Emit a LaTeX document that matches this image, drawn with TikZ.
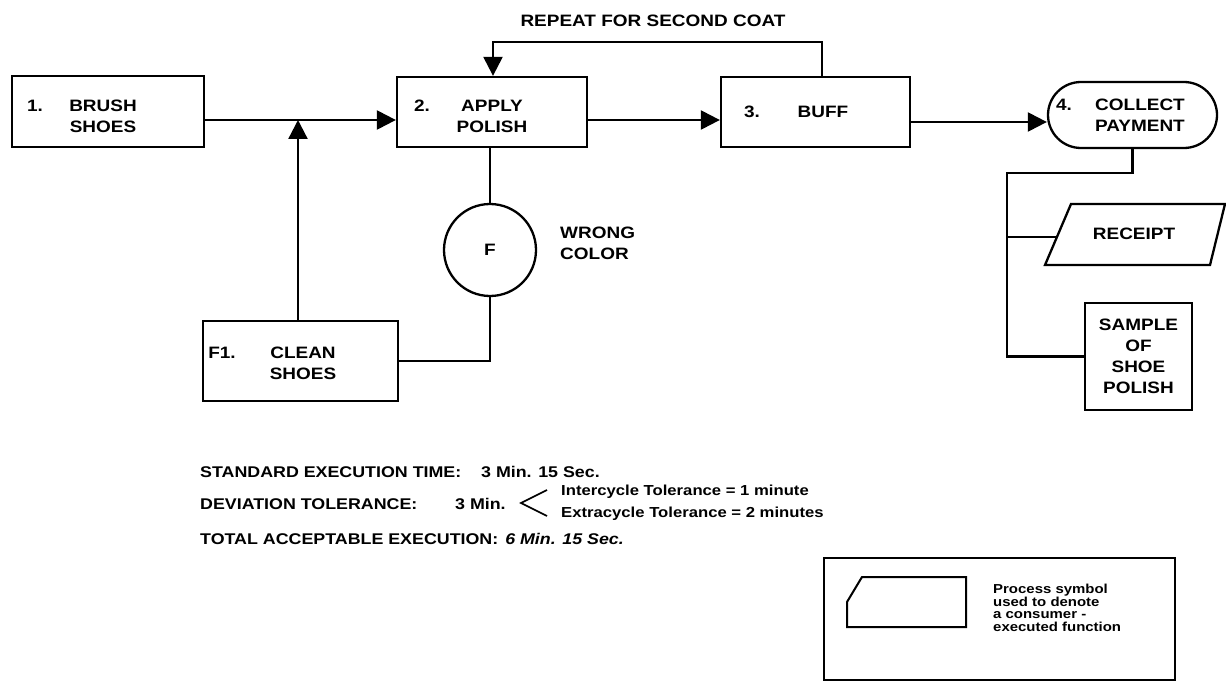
\documentclass[tikz,border=0pt]{standalone}
\usepackage{fontspec}
\setmainfont{Liberation Sans}[FakeStretch=1.15]
\usetikzlibrary{arrows.meta,shapes.misc}
\begin{document}
\begin{tikzpicture}[x=1pt,y=-1pt,
  ln/.style={line width=2.3pt},
  box/.style={draw,line width=2.3pt,rectangle,inner sep=0pt},
  arr/.style={line width=2.3pt,-{Triangle[length=19pt,width=19pt]}},
  lbl/.style={font=\fontsize{16.5}{21}\selectfont\bfseries,align=center,inner sep=0pt},
  btx/.style={font=\fontsize{15.5}{19}\selectfont\bfseries,inner sep=0pt,anchor=base west},
  sml/.style={font=\fontsize{14.5}{14}\selectfont\bfseries,align=left,inner sep=0pt},
  leg/.style={font=\fontsize{13}{12.6}\selectfont\bfseries,align=left,inner sep=0pt},
]
\useasboundingbox (0,0) rectangle (1226,682);

% process boxes
\node[box,minimum width=192pt,minimum height=71pt] (b1) at (108,111.5) {};
\node[lbl] (b1n) at (35,106) {1.};
\node[lbl] (b1t) at (103,116.5) {BRUSH\\SHOES};

\node[box,minimum width=190pt,minimum height=70pt] (b2) at (492,112) {};
\node[lbl] (b2n) at (422,106) {2.};
\node[lbl] (b2t) at (492,116.5) {APPLY\\POLISH};

\node[box,minimum width=189pt,minimum height=70pt] (b3) at (815.5,112) {};
\node[lbl] (b3n) at (752,112) {3.};
\node[lbl] (b3t) at (823,112) {BUFF};

\node[draw,line width=2.3pt,rounded rectangle,minimum width=169pt,minimum height=66pt,inner sep=0pt] (t4) at (1132.5,115) {};
\node[lbl] (t4n) at (1064,105) {4.};
\node[lbl] (t4t) at (1140,115) {COLLECT\\PAYMENT};

\node[draw,circle,line width=2.3pt,minimum size=92pt,lbl] (fc) at (490,250) {F};
\node[lbl,align=left,anchor=west] (wc) at (560,243.5) {WRONG\\COLOR};

\node[box,minimum width=195pt,minimum height=80pt] (f1) at (300.5,361) {};
\node[lbl] (f1n) at (222,353) {F1.};
\node[lbl] (f1t) at (303,363) {CLEAN\\SHOES};

\node[box,minimum width=107pt,minimum height=107pt,lbl] (smp) at (1138.5,356.5) {SAMPLE\\OF\\SHOE\\POLISH};

% receipt (parallelogram)
\draw[ln] (1045,265) -- (1071,204) -- (1225,204) -- (1210,265) -- cycle;
\node[lbl] (rc) at (1134,234) {RECEIPT};
\coordinate (rcW) at (1057,237);

\node[lbl] (rep) at (653,21) {REPEAT FOR SECOND COAT};

% connectors
\coordinate (jn) at (298,120);
\draw[ln] (b1.east |- jn) -- (jn);
\draw[arr] (jn) -- (b2.west |- jn);
\draw[arr] (jn |- f1.north) -- (jn);
\draw[arr] (b2.east |- jn) -- (b3.west |- jn);
\coordinate (m3) at (980,122);
\draw[arr] (b3.east |- m3) -- (t4.west |- m3);

\coordinate (loopR) at (822,42);
\coordinate (loopL) at (493,42);
\draw[arr] (loopR |- b3.north) -- (loopR) -- (loopL) -- (loopL |- b2.north);

\draw[ln] (fc.north |- b2.south) -- (fc.north);
\draw[ln] (fc.south) |- (f1.east);

\coordinate (busT) at (1007,173);
\draw[ln] (t4.south) |- (busT) -- (busT |- smp.west) -- (smp.west);
\draw[ln] (busT |- rcW) -- (rcW);

% bottom text
\node[btx] (s1) at (200,477) {STANDARD EXECUTION TIME:};
\node[btx] (s1v) at (481,477) {3 Min. 15 Sec.};
\node[btx] (s2) at (200,509) {DEVIATION TOLERANCE:};
\node[btx] (s2v) at (455,509) {3 Min.};
\draw[line width=1.6pt] (547,490) -- (521,503) -- (547,516);
\node[sml,anchor=west] (i1) at (561,492) {Intercycle Tolerance = 1 minute};
\node[sml,anchor=west] (i2) at (561,514) {Extracycle Tolerance = 2 minutes};
\node[btx] (s3) at (200,544) {TOTAL ACCEPTABLE EXECUTION:\hspace{7pt}{\itshape 6 Min. 15 Sec.}};

% legend
\node[draw,line width=2pt,minimum width=351pt,minimum height=122pt,inner sep=0pt] (lg) at (999.5,619) {};
\draw[line width=2pt] (847,602) -- (862,577) -- (966,577) -- (966,627) -- (847,627) -- cycle;
\node[leg,anchor=north west] (lgt) at (993,584) {Process symbol\\used to denote\\a consumer -\\executed function};
\end{tikzpicture}
\end{document}
